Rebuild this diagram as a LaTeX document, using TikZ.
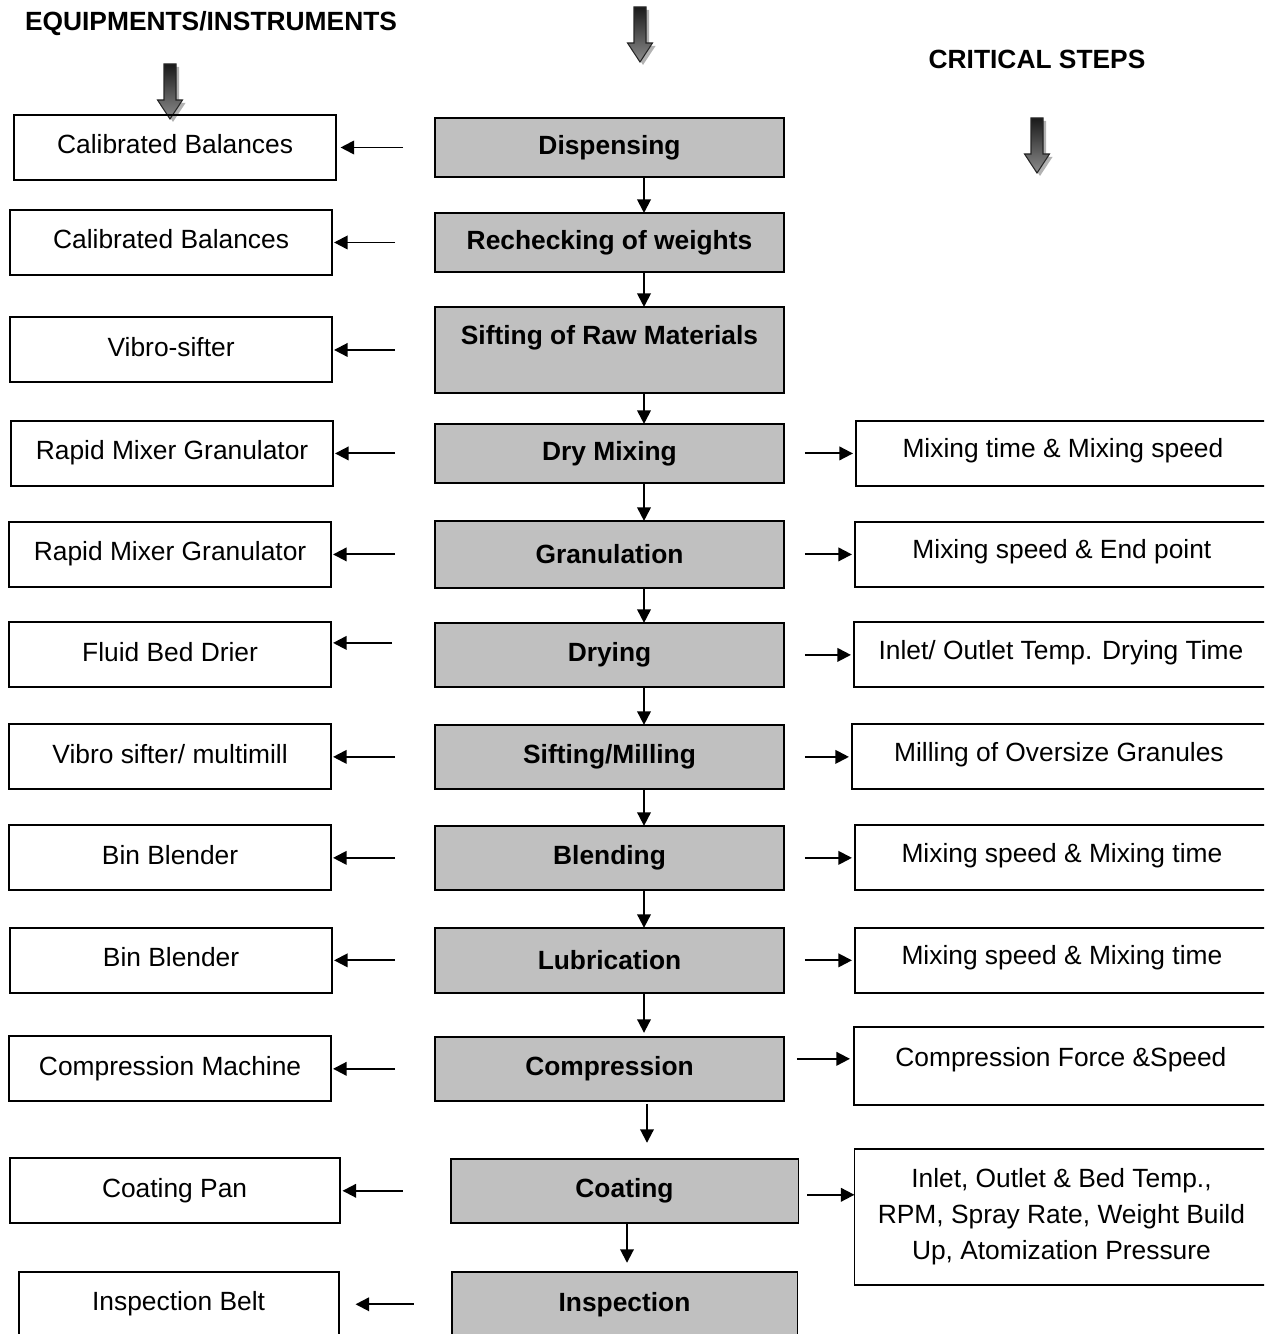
\documentclass[tikz,border=0pt]{standalone}
\usepackage{fontspec}
\setmainfont{Liberation Sans}
\usetikzlibrary{arrows.meta, positioning, calc}
\definecolor{stepgray}{HTML}{C0C0C0}

\begin{document}
\begin{tikzpicture}
[
    x=0.02cm, y=-0.02cm,
    node distance=1cm,
    stepbox/.style={
        draw,
        fill=stepgray,
        rectangle,
        line width=1.1pt,
        outer sep=0pt,
        minimum width=6.98cm,
        minimum height=1.28cm,
        align=center,
        font=\fontsize{15}{18}\selectfont\bfseries,
    },
    toolbox/.style={
        draw,
        rectangle,
        line width=1.1pt,
        outer sep=0pt,
        minimum width=6.44cm,
        minimum height=1.3cm,
        text height=0.4cm,
        text depth=0.15cm,
        align=center,
        font=\fontsize{15}{18}\selectfont,
    },
    critbox/.style={
        draw,
        rectangle,
        line width=1.1pt,
        outer sep=0pt,
        minimum width=8.28cm,
        minimum height=1.3cm,
        text height=0.4cm,
        text depth=0.22cm,
        align=center,
        font=\fontsize{15}{18}\selectfont,
    },
    head/.style={font=\fontsize{15}{18}\selectfont\bfseries},
    arrow/.style={-{Triangle[length=0.27cm,width=0.27cm]}, line width=1.1pt},
    bigarrow/.style={top color=black!90, bottom color=black!45, draw=black!85, line width=0.6pt}
]

\useasboundingbox (0,0) rectangle (1264,1334);
\clip (0,0) rectangle (1264,1334);

% Column headings and the three block arrows
\node[head] (eqHead) at (211,24) {EQUIPMENTS/INSTRUMENTS};
\node[head] (critHead) at (1037,59) {CRITICAL STEPS};

\foreach \x/\y in {640/7, 170/64, 1037/118}{
    \fill[gray!60, shift={(\x+3,\y+3)}] (-6,0) -- (6,0) -- (6,36) -- (12.5,36) -- (0,55) -- (-12.5,36) -- (-6,36) -- cycle;
    \shadedraw[bigarrow, shift={(\x,\y)}] (-6,0) -- (6,0) -- (6,36) -- (12.5,36) -- (0,55) -- (-12.5,36) -- (-6,36) -- cycle;
}

% Process steps
\node[stepbox, minimum height=1.18cm] (disp) at (609.5,147.5) {Dispensing};
\node[stepbox, minimum height=1.18cm, below=0.72cm of disp] (rech) {Rechecking of weights};
\node[stepbox, minimum height=1.72cm, text depth=0.6cm, below=0.7cm of rech] (sift) {Sifting of Raw Materials};
\node[stepbox, minimum height=1.18cm, below=0.62cm of sift] (dry) {Dry Mixing};
\node[stepbox, minimum height=1.34cm, below=0.76cm of dry] (gran) {Granulation};
\node[stepbox, below=0.7cm of gran] (dryg) {Drying};
\node[stepbox, below=0.76cm of dryg] (mill) {Sifting/Milling};
\node[stepbox, below=0.74cm of mill] (blend) {Blending};
\node[stepbox, minimum height=1.3cm, below=0.76cm of blend] (lub) {Lubrication};
\node[stepbox, below=0.88cm of lub] (comp) {Compression};
\node[stepbox, minimum width=6.96cm, below=1.16cm of comp, xshift=0.3cm] (coat) {Coating};
\node[stepbox, minimum width=6.92cm, minimum height=1.3cm, below=0.98cm of coat] (insp) {Inspection};

% Equipments / instruments
\node[toolbox, left=1.98cm of disp] (calA) {Calibrated Balances};
\node[toolbox, left=2.06cm of rech] (calB) {Calibrated Balances};
\node[toolbox, left=2.06cm of sift] (vibro) {Vibro-sifter};
\node[toolbox, left=2.04cm of dry] (rmgA) {Rapid Mixer Granulator};
\node[toolbox, left=2.08cm of gran] (rmgB) {Rapid Mixer Granulator};
\node[toolbox, left=2.08cm of dryg] (fluid) {Fluid Bed Drier};
\node[toolbox, left=2.08cm of mill] (multi) {Vibro sifter/ multimill};
\node[toolbox, left=2.08cm of blend] (binA) {Bin Blender};
\node[toolbox, left=2.06cm of lub] (binB) {Bin Blender};
\node[toolbox, left=2.08cm of comp] (press) {Compression Machine};
\node[toolbox, minimum width=6.6cm, left=2.22cm of coat] (pan) {Coating Pan};
\node[toolbox, minimum width=6.4cm, left=2.26cm of insp] (belt) {Inspection Belt};

% Critical steps
\node[critbox, right=1.44cm of dry] (critDry) {Mixing time \& Mixing speed};
\node[critbox, right=1.42cm of gran] (critGran) {Mixing speed \& End point};
\node[critbox, right=1.4cm of dryg] (critDryg) {Inlet/ Outlet Temp. Drying Time};
\node[critbox, right=1.36cm of mill] (critMill) {Milling of Oversize Granules};
\node[critbox, right=1.42cm of blend] (critBlend) {Mixing speed \& Mixing time};
\node[critbox, right=1.42cm of lub] (critLub) {Mixing speed \& Mixing time};
\node[critbox, minimum height=1.56cm, text depth=0.38cm, right=1.4cm of comp, yshift=0.06cm] (critComp) {Compression Force \&Speed};
\node[critbox, minimum height=2.72cm, text height=, text depth=, font=\fontsize{15}{20.4}\selectfont, right=1.12cm of coat, yshift=-0.52cm] (critCoat) {Inlet, Outlet \& Bed Temp.,\\RPM, Spray Rate, Weight Build\\Up, Atomization Pressure};

% Flow down the middle
\coordinate (flow) at (644,0);
\coordinate (flowB) at (627,0);
\foreach \a/\b in {disp/rech, rech/sift, sift/dry, dry/gran, gran/dryg, dryg/mill, mill/blend, blend/lub}
    \draw[arrow] (\a.south -| flow) -- (\b.north -| flow);
\draw[arrow, shorten >=0.08cm] (lub.south -| flow) -- (comp.north -| flow);
\draw[arrow, shorten <=0.06cm, shorten >=0.32cm] ([xshift=0.06cm]comp.south -| flow) -- ([xshift=0.06cm]coat.north -| flow);
\draw[arrow, shorten >=0.18cm] (coat.south -| flowB) -- (insp.north -| flowB);

% Arrows to the equipments
\draw[arrow, shorten <=0.64cm, shorten >=0.09cm] (disp.west) -- (disp.west -| calA.east);
\foreach \s/\t in {rech/calB, sift/vibro, dry/rmgA, gran/rmgB, mill/multi, blend/binA, lub/binB, comp/press}
    \draw[arrow, shorten <=0.8cm, shorten >=0.04cm] (\s.west) -- (\s.west -| \t.east);
\draw[arrow, shorten <=0.86cm, shorten >=0.04cm] ([yshift=0.24cm]dryg.west) -- ([yshift=0.24cm]dryg.west -| fluid.east);
\draw[arrow, shorten <=0.96cm, shorten >=0.06cm] (coat.west) -- (coat.west -| pan.east);
\draw[arrow, shorten <=0.76cm, shorten >=0.34cm] (insp.west) -- (insp.west -| belt.east);

% Arrows to the critical steps
\foreach \s/\t in {dry/critDry, gran/critGran, dryg/critDryg, mill/critMill, blend/critBlend, lub/critLub}
    \draw[arrow, shorten <=0.42cm, shorten >=0.06cm] (\s.east) -- (\s.east -| \t.west);
\draw[arrow, shorten <=0.26cm, shorten >=0.08cm] ([yshift=0.2cm]comp.east) -- ([yshift=0.2cm]comp.east -| critComp.west);
\draw[arrow, shorten <=0.18cm] ([yshift=-0.08cm]coat.east) -- ([yshift=-0.08cm]coat.east -| critCoat.west);

\end{tikzpicture}
\end{document}
